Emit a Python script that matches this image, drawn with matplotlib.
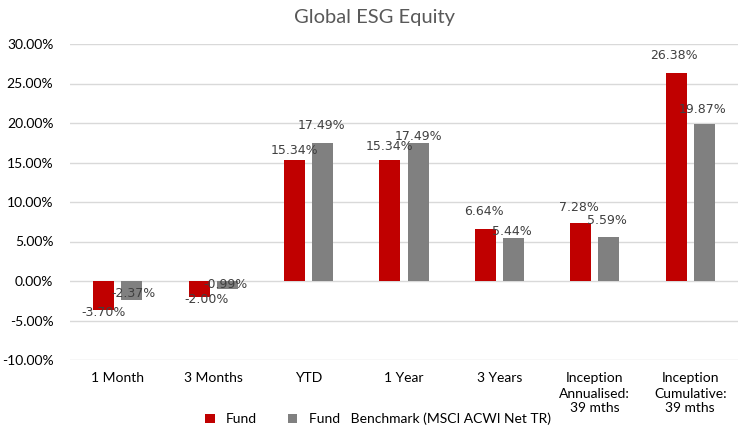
import numpy as np
import matplotlib
matplotlib.use("Agg")
import matplotlib.pyplot as plt
import matplotlib.ticker as ticker

categories = ["1 Month", "3 Months", "YTD", "1 Year", "3 Years",
              "Inception\nAnnualised:\n39 mths", "Inception\nCumulative:\n39 mths"]
fund = [-3.70, -2.00, 15.34, 15.34, 6.64, 7.28, 26.38]
benchmark = [-2.37, -0.99, 17.49, 17.49, 5.44, 5.59, 19.87]
y_ticks = [-10, -5, 0, 5, 10, 15, 20, 25, 30]

# label nudges (pixels) as placed by hand in the original sheet
fund_shift = [(0, -2), (7, -3), (0, 9), (0, 13), (-1, 17), (-2, 16), (-2, 17)]
bench_shift = [(2, 6), (-2, 4), (-1, 17), (0, 6), (-2, 7), (-2, 16), (-2, 15)]

RED = "#C00000"
GREY = "#808080"
LABEL_FONT = "Lato"

fig = plt.figure(figsize=(7.41, 4.28), dpi=100)
ax = fig.add_axes([70 / 741, 1 - 360 / 428, 668 / 741, 316 / 428])

x = np.arange(len(categories))
w = 0.22
off = 0.147
b1 = ax.bar(x - off, fund, w, color=RED, zorder=2, label="Fund")
b2 = ax.bar(x + off, benchmark, w, color=GREY, zorder=2,
            label="Fund   Benchmark (MSCI ACWI Net TR)")

for bars, vals, shifts in [(b1, fund, fund_shift), (b2, benchmark, bench_shift)]:
    for rect, v, (dx, dy) in zip(bars, vals, shifts):
        cx = rect.get_x() + rect.get_width() / 2
        ax.annotate(f"{v:.2f}%", (cx, v), xytext=(dx, dy), textcoords="offset pixels",
                    ha="center", va="center", fontsize=9, color="#404040",
                    family="DejaVu Sans", zorder=3)

ax.set_xlim(-0.5, len(categories) - 0.5)
ax.set_ylim(-10, 30)
ax.set_yticks(y_ticks)
ax.yaxis.set_major_formatter(ticker.FuncFormatter(lambda v, p: f"{v:.2f}%"))
ax.grid(axis="y", color="#D9D9D9", lw=1, zorder=0)
for s in ax.spines.values():
    s.set_visible(False)
ax.tick_params(axis="y", length=0, pad=12, labelsize=10, labelcolor="#000000")
ax.tick_params(axis="x", length=0, pad=9, labelsize=10)
ax.set_xticks(x)
ax.set_xticklabels(categories, family=LABEL_FONT, linespacing=1.3, va="top")
for t in ax.get_yticklabels():
    t.set_family(LABEL_FONT)

fig.text(0.505, 1 - 18 / 428, "Global ESG Equity", ha="center", va="center",
         fontsize=14.5, color="#595959", family=LABEL_FONT)

fig.legend(handles=[b1, b2], loc="center", bbox_to_anchor=(0.51, 1 - 419 / 428),
           ncol=2, frameon=False, handlelength=0.7, handleheight=0.7,
           columnspacing=2.2, handletextpad=0.8,
           prop={"family": LABEL_FONT, "size": 10})

fig.savefig("out.png", dpi=100)
